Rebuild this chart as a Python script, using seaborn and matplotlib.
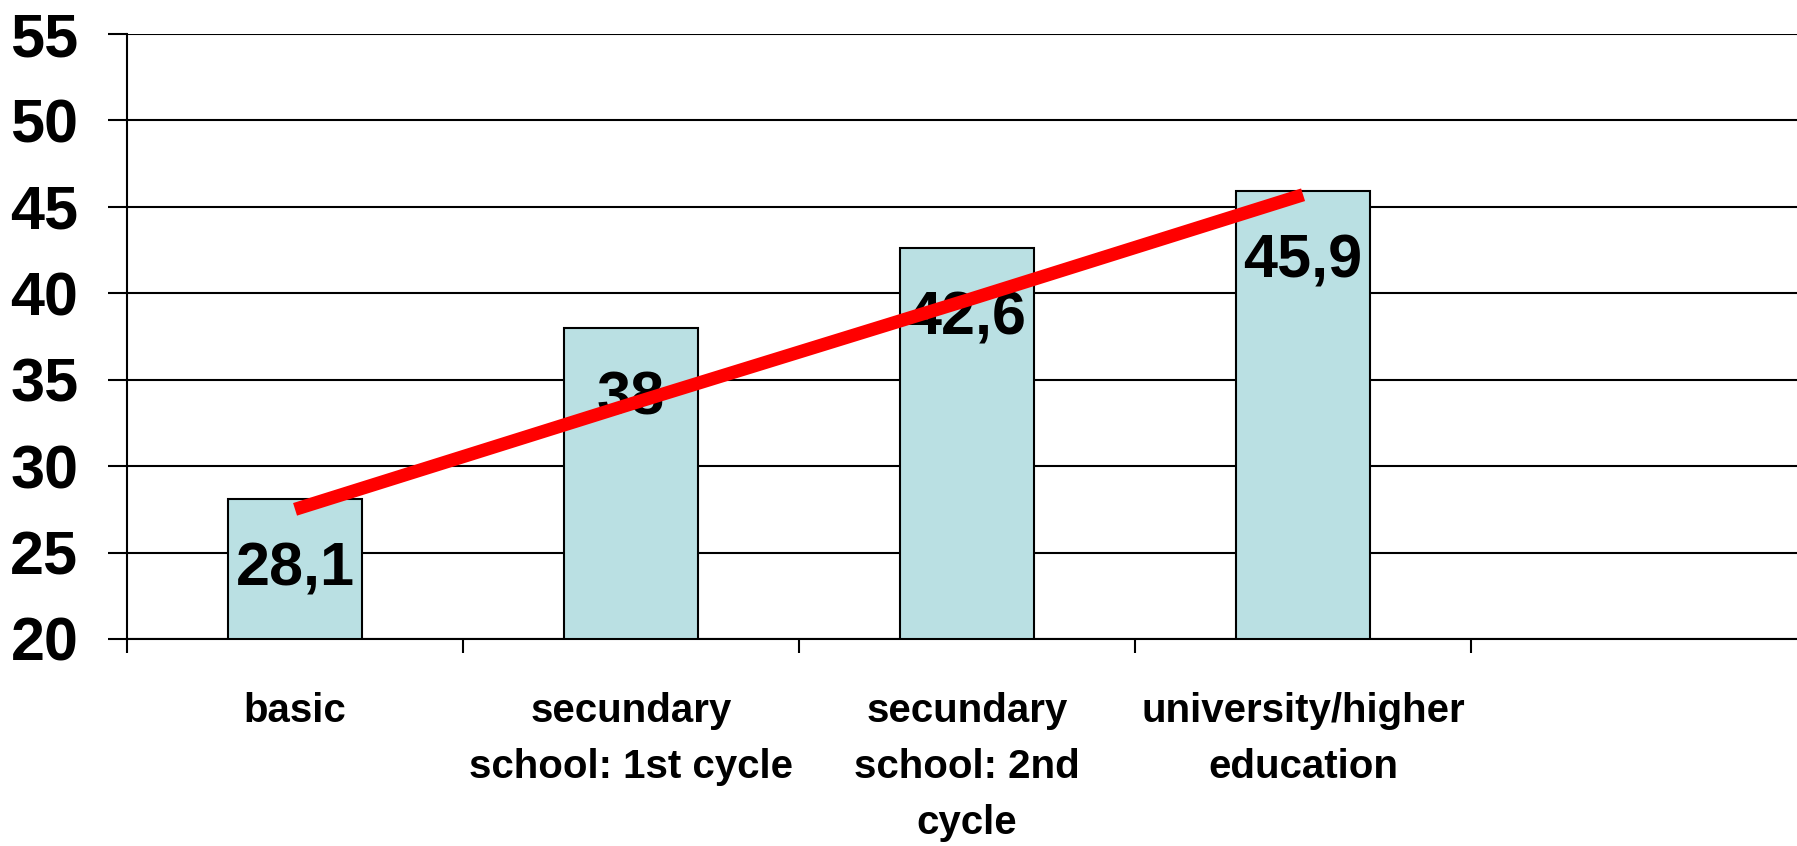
import numpy as np
import matplotlib
matplotlib.use('Agg')
import matplotlib.pyplot as plt
import pandas as pd
import seaborn as sns

categories = ["basic", "secundary\nschool: 1st cycle", "secundary\nschool: 2nd\ncycle",
              "university/higher\neducation"]
values = [28.1, 38.0, 42.6, 45.9]
value_labels = ["28,1", "38", "42,6", "45,9"]
trend = [27.5, 33.6, 39.6, 45.7]
yticks = [20, 25, 30, 35, 40, 45, 50, 55]

sns.set_style("white")
plt.rcParams['font.family'] = ['Liberation Sans', 'DejaVu Sans']
plt.rcParams['font.weight'] = 'bold'
plt.rcParams['text.color'] = 'black'
plt.rcParams['xtick.color'] = 'black'
plt.rcParams['ytick.color'] = 'black'

df = pd.DataFrame({"level": categories, "value": values})

fig = plt.figure(figsize=(17.97, 8.46), dpi=100)
ax = fig.add_axes([0.0707, 0.2447, 0.9293, 0.7151])

sns.barplot(data=df, x="level", y="value", color="#BAE0E3", width=0.4,
            edgecolor="black", linewidth=1.5, saturation=1, ax=ax, zorder=2)

ax.plot(range(len(trend)), trend, color="#FF0000", lw=9.5,
        solid_capstyle="butt", zorder=5)

for i, (v, lab) in enumerate(zip(values, value_labels)):
    ax.annotate(lab, (i, v), xytext=(0, -51), textcoords="offset points",
                ha="center", va="center", fontsize=44, fontweight="bold",
                color="black", zorder=4)

ax.set_ylim(20, 55)
ax.set_xlim(-0.5, 4.47)
ax.set_yticks(yticks)
ax.set_yticklabels([str(t) for t in yticks], fontsize=44, fontweight="bold")
ax.set_xticks(range(len(categories)))
ax.set_xticklabels(categories, fontsize=29, fontweight="bold", linespacing=1.6, va="top")
ax.set_xticks(np.arange(-0.5, 4.0, 1.0), minor=True)
ax.tick_params(axis="x", which="major", length=0, pad=38, bottom=True)
ax.tick_params(axis="x", which="minor", length=10, width=1.5, color="black",
               direction="out", bottom=True)
ax.tick_params(axis="y", length=14, width=1.5, color="black", direction="out",
               pad=21, left=True)
ax.set_xlabel("")
ax.set_ylabel("")

ax.yaxis.grid(True, color="black", lw=1.5)
ax.set_axisbelow(True)
for s in ["top", "right"]:
    ax.spines[s].set_visible(False)
for s in ["left", "bottom"]:
    ax.spines[s].set_color("black")
    ax.spines[s].set_linewidth(1.5)

fig.savefig("out.png", dpi=100)
